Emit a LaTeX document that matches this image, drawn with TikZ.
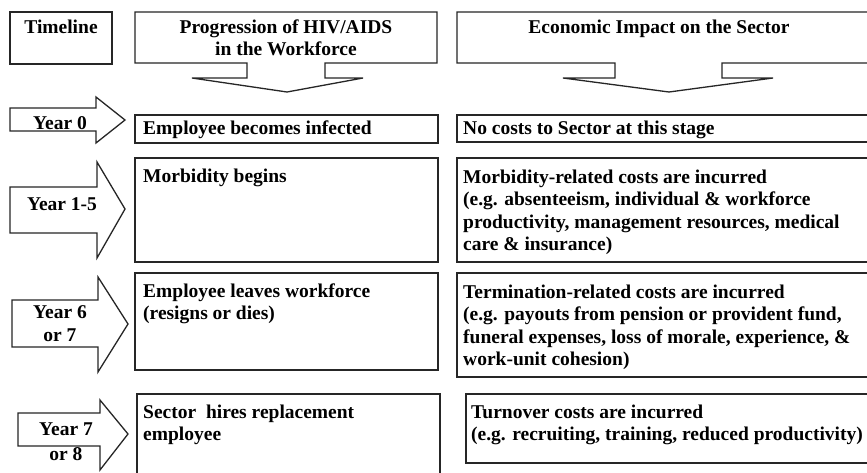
\documentclass[tikz,border=0pt]{standalone}
\usepackage{fontspec}
\setmainfont{Liberation Serif}
\begin{document}
\begin{tikzpicture}[x=1pt,y=-1pt]
\tikzset{
  frame/.style={draw=black!85, line width=1.3pt, line join=miter},
  txt/.style={font=\bfseries\fontsize{19.5}{22.5}\selectfont, inner sep=0pt, align=left, text=black},
  ctxt/.style={font=\bfseries\fontsize{19.5}{22.5}\selectfont, inner sep=0pt, align=center, text=black},
}
\clip (0,0) rectangle (867,472);
\fill[white] (0,0) rectangle (867,472);

% header boxes
\draw[frame] (10,12) rectangle (112,64);
\node[ctxt, anchor=base] (timeline) at (61,33) {Timeline};

\draw[frame] (135,12) -- (437,12) -- (437,63) -- (325,63) -- (325,78) -- (363,78) -- (287,92)
  -- (192,78) -- (247,78) -- (247,63) -- (135,63) -- cycle;
\node[ctxt, anchor=north] (prog) at (286,19.5) {Progression of HIV/AIDS\\in the Workforce};

\draw[frame] (457,12) -- (890,12) -- (890,63) -- (722,63) -- (722,78) -- (773,78) -- (669,92)
  -- (563,78) -- (615,78) -- (615,63) -- (457,63) -- cycle;
\node[ctxt, anchor=base] (econ) at (659,33) {Economic Impact on the Sector};

% Row 0
\draw[frame] (10,108) -- (96,108) -- (96,97) -- (125,120) -- (96,143) -- (96,131) -- (10,131) -- cycle;
\node[ctxt, anchor=base] (y0) at (60,129.5) {Year 0};
\draw[frame] (135,115) rectangle (438,143);
\node[txt, anchor=base west] (l0) at (143,134) {Employee becomes infected};
\draw[frame] (457,115) rectangle (890,142);
\node[txt, anchor=base west] (r0) at (463,134) {No costs to Sector at this stage};

% Row 1
\draw[frame] (10,187) -- (97,187) -- (97,162) -- (125,209) -- (97,258) -- (97,233) -- (10,233) -- cycle;
\node[ctxt, anchor=base] (y1) at (62,210) {Year 1-5};
\draw[frame] (135,158) rectangle (438,262);
\node[txt, anchor=base west] (l1) at (143,182) {Morbidity begins};
\draw[frame] (457,158) rectangle (890,262);
\node[txt, anchor=north west] (r1) at (463,169.5) {Morbidity-related costs are incurred\\(e.g. absenteeism, individual \& workforce\\productivity, management resources, medical\\care \& insurance)};

% Row 2
\draw[frame] (12,300) -- (98,300) -- (98,277) -- (128,324) -- (98,372) -- (98,347) -- (12,347) -- cycle;
\node[ctxt, anchor=north] (y2) at (60,305.5) {Year 6\\or 7};
\draw[frame] (135,273) rectangle (438,370);
\node[txt, anchor=north west] (l2) at (143,283.5) {Employee leaves workforce\\(resigns or dies)};
\draw[frame] (457,273) rectangle (890,377);
\node[txt, anchor=north west] (r2) at (463,284.5) {Termination-related costs are incurred\\(e.g. payouts from pension or provident fund,\\funeral expenses, loss of morale, experience, \&\\work-unit cohesion)};

% Row 3
\draw[frame] (18,413) -- (100,413) -- (100,400) -- (128,434) -- (100,470) -- (100,446) -- (18,446) -- cycle;
\node[ctxt, anchor=north] (y3) at (66,422.5) {Year 7\\[3pt]or 8};
\draw[frame] (137,394) rectangle (440,490);
\node[txt, anchor=north west] (l3) at (143,404.5) {Sector\ \ hires replacement\\employee};
\draw[frame] (466,394) rectangle (890,463);
\node[txt, anchor=north west] (r3) at (471,404.5) {Turnover costs are incurred\\(e.g. recruiting, training, reduced productivity)};
\end{tikzpicture}
\end{document}
